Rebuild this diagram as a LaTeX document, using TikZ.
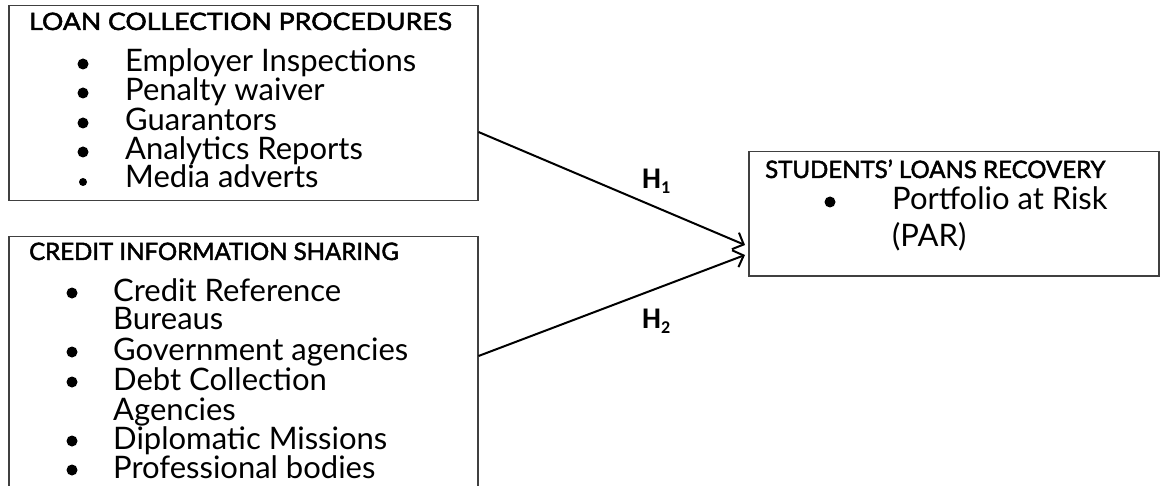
\documentclass[tikz,border=0pt]{standalone}
\usepackage{fontspec}
\setmainfont{Lato}
\newfontfamily\titlefont{Lato}[FakeBold=2]
\newfontfamily\hfont{Carlito}
\usetikzlibrary{arrows.meta}
\tikzset{
  box/.style={draw=black!75, line width=1.5pt, anchor=north west, inner sep=0pt},
  ttl/.style={anchor=base west, inner sep=0pt, font=\titlefont\fontsize{24}{24}\selectfont},
  item/.style={anchor=base west, inner sep=0pt, font=\fontsize{31}{31}\selectfont},
  dot/.style={circle, fill=black, inner sep=0pt, minimum size=11pt},
  sdot/.style={dot, minimum size=8pt},
  arr/.style={line width=2pt, -{Straight Barb[length=9pt,width=18pt,line width=2pt]}},
  hlab/.style={anchor=base west, inner sep=0pt, font=\hfont\bfseries\fontsize{30}{30}\selectfont}
}
\newcommand{\hsub}[1]{\raisebox{-5pt}{\fontsize{18}{18}\selectfont #1}}
\begin{document}
\begin{tikzpicture}[x=1pt,y=-1pt]
\useasboundingbox (0,0) rectangle (1161,486);
% boxes
\node[box, minimum width=469pt, minimum height=195pt] (lcp) at (8,5) {};
\node[box, minimum width=469pt, minimum height=262pt] (cis) at (8,236) {};
\node[box, minimum width=410pt, minimum height=124pt] (slr) at (748,151) {};
% box 1
\node[ttl] (t1) at (29,30) {\scalebox{1.11}[1]{LOAN COLLECTION PROCEDURES}};
\node[dot] (b11) at (83,64) {};  \node[item] (i11) at (125,72) {Employer Inspections};
\node[dot] (b12) at (83,93) {};  \node[item] (i12) at (125,101) {Penalty waiver};
\node[dot] (b13) at (83,123) {}; \node[item] (i13) at (125,131) {Guarantors};
\node[dot] (b14) at (83,152) {}; \node[item] (i14) at (125,160) {Analytics Reports};
\node[sdot] (b15) at (83,182) {}; \node[item] (i15) at (125,188) {Media adverts};
% box 2
\node[ttl] (t2) at (29,260) {CREDIT INFORMATION SHARING};
\node[dot] (b21) at (72,293) {}; \node[item] (i21) at (113,301) {Credit Reference};
\node[item] (i21b) at (113,329) {Bureaus};
\node[dot] (b22) at (72,352) {}; \node[item] (i22) at (113,360) {Government agencies};
\node[dot] (b23) at (72,382) {}; \node[item] (i23) at (113,390) {Debt Collection};
\node[item] (i23b) at (113,420) {Agencies};
\node[dot] (b24) at (72,441) {}; \node[item] (i24) at (113,449) {Diplomatic Missions};
\node[dot] (b25) at (72,470) {}; \node[item] (i25) at (113,478) {Professional bodies};
% box 3
\node[ttl] (t3) at (765,178) {STUDENTS’ LOANS RECOVERY};
\node[dot] (b31) at (830,202) {}; \node[item] (i31) at (892,210) {Portfolio at Risk};
\node[item] (i31b) at (892,247) {(PAR)};
% connectors
\coordinate (s1) at (lcp.east |- 0,132);
\coordinate (s2) at (cis.east |- 0,356);
\coordinate (e1) at ([xshift=-3pt]slr.west |- 0,245);
\coordinate (e2) at ([xshift=-3pt]slr.west |- 0,255);
\draw[arr] (s1) -- (e1);
\draw[arr] (s2) -- (e2);
\node[hlab] (h1) at (642,189) {H\hsub{1}};
\node[hlab] (h2) at (642,328) {H\hsub{2}};
\end{tikzpicture}
\end{document}
